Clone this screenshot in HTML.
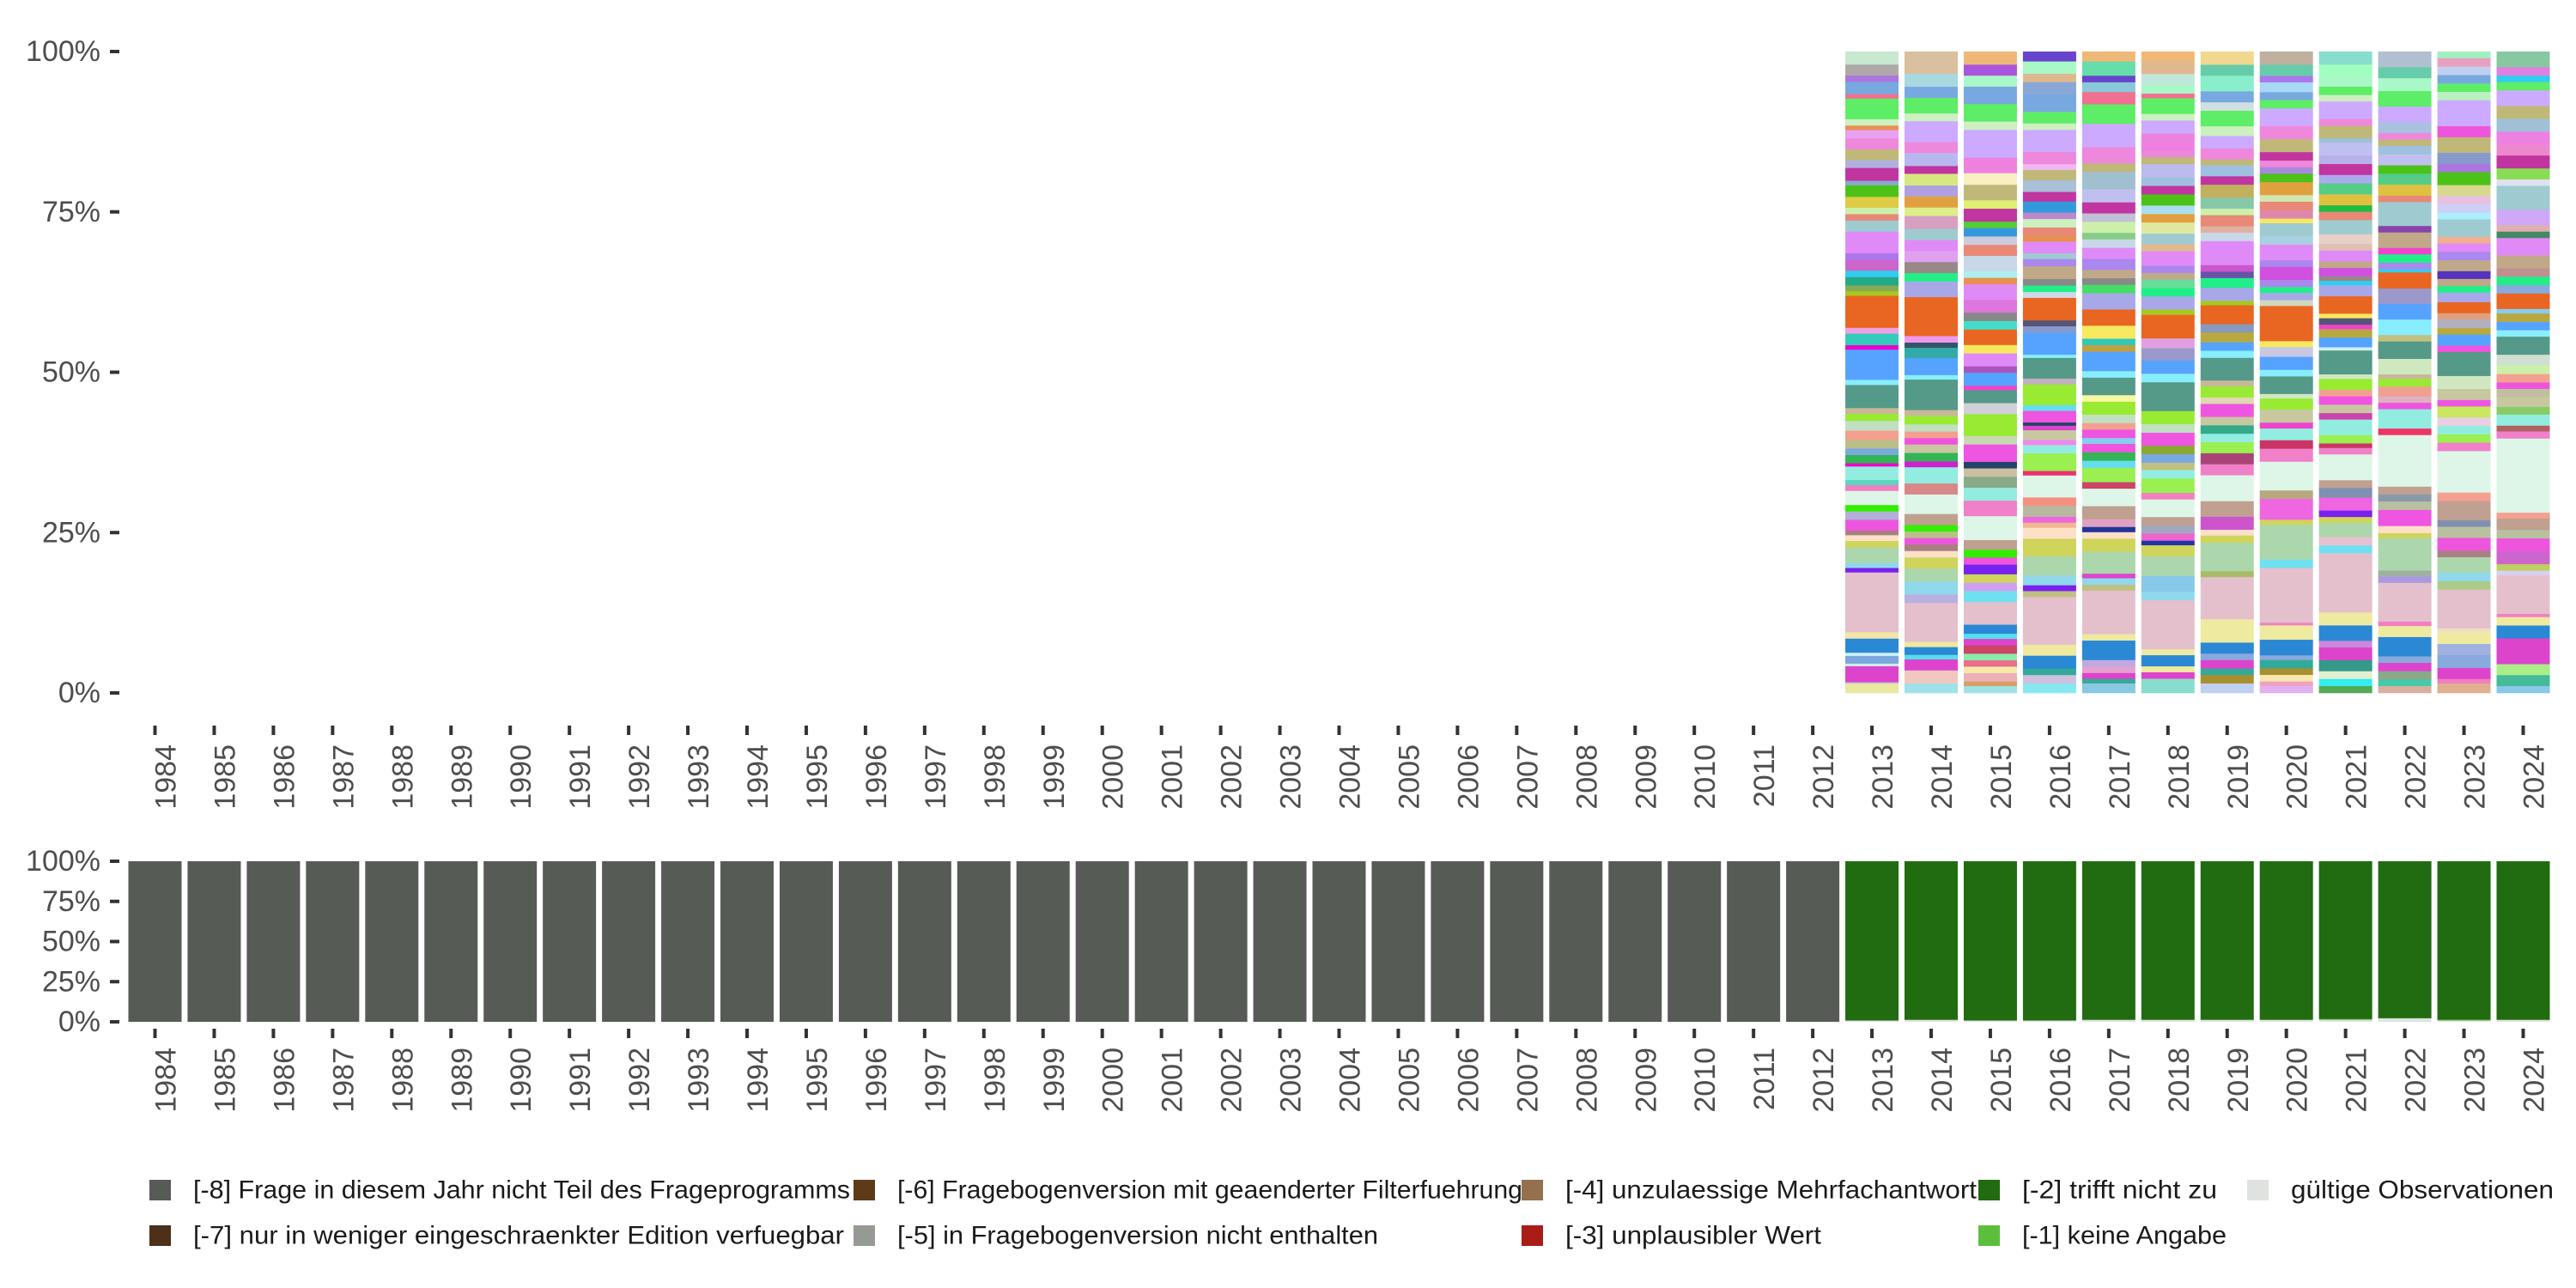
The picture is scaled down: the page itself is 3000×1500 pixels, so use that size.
<!DOCTYPE html>
<html><head><meta charset="utf-8"><style>
html,body{margin:0;padding:0;background:#fff;}
svg{display:block;font-family:"Liberation Sans",sans-serif;}
</style></head><body>
<svg id="chart" width="3000" height="1500" viewBox="0 0 3000 1500" xmlns="http://www.w3.org/2000/svg">
<g id="topPanel"></g>
<g id="bottomPanel"></g>
<g id="legend"></g>
</svg>
<script>
const years = [];
for (let y = 1984; y <= 2024; y++) years.push(y);
const yTicks = [0, 25, 50, 75, 100];
const yTickLabels = ['0%', '25%', '50%', '75%', '100%'];

// top panel: stacked shares (bottom -> top) of valid answer categories, [share %, colour]
const seg2013 = [[1.5,'#e8e8a0'],[0.2,'#c0c0e0'],[2.5,'#dd44cc'],[0.4,'#cceeee'],[1.2,'#7ba7dc'],[0.5,'#cceeff'],[2.2,'#2a88d4'],[1,'#f4e4a8'],[9.3,'#e4bfcc'],[0.7,'#7722ee'],[0.8,'#8fd8ec'],[2.4,'#acd6ac'],[1,'#cfd45a'],[0.9,'#fde0c8'],[0.7,'#a88080'],[1.7,'#ee55dd'],[1.3,'#b0b0d8'],[1,'#33ee00'],[2.2,'#ddf6e8'],[0.9,'#f080c0'],[0.8,'#5cd6c0'],[2.1,'#92ede0'],[0.5,'#ee00cc'],[1.3,'#33b555'],[1,'#7aa9e0'],[1.3,'#b8c088'],[1.5,'#f4a090'],[1.5,'#c0e0c0'],[1.1,'#99ea33'],[0.9,'#c8b898'],[3.6,'#559988'],[0.8,'#88eeff'],[4.7,'#55a3ff'],[0.7,'#ee00cc'],[1.8,'#33ccbb'],[0.9,'#f0a0e0'],[5,'#e86622'],[0.7,'#a8c820'],[0.9,'#88aa55'],[1.3,'#22aa88'],[1,'#33ccee'],[1.7,'#cc66cc'],[1,'#aa77ee'],[3.4,'#e08af8'],[1.7,'#9ecbd0'],[1,'#e88877'],[1,'#ccf0aa'],[1.7,'#ddcc44'],[1.8,'#4cc218'],[0.7,'#88aacc'],[2,'#c035a0'],[1.2,'#b0b0e0'],[1.7,'#c0b878'],[1.7,'#ee88dd'],[1.3,'#e8a0f0'],[0.7,'#e89050'],[1,'#ccf0c0'],[3.2,'#5ded66'],[0.7,'#f07090'],[1.9,'#78a8e0'],[1,'#aa77dd'],[1.7,'#b0a8a8'],[2,'#c8e8d0']];
const seg2014 = [[1.5,'#a0e0e8'],[2,'#f0c8c0'],[1.7,'#dd44cc'],[0.7,'#55ddee'],[1.2,'#2a88d4'],[0.8,'#eeeaa0'],[6,'#e4bfcc'],[1.3,'#b8b0e0'],[2,'#90d8ec'],[2,'#acd6ac'],[1.7,'#cfd45a'],[1,'#fde0c8'],[1,'#a88080'],[1,'#ee55dd'],[1,'#b8c088'],[1,'#33ee00'],[1.7,'#c0a090'],[3,'#ddf6e8'],[1.7,'#d88888'],[2.5,'#92ede0'],[0.9,'#cc22cc'],[1.3,'#33b555'],[1.3,'#c8c8a0'],[1,'#ee55dd'],[1,'#f4a090'],[1.1,'#c0e0c0'],[1.3,'#99ea33'],[0.9,'#c8b898'],[4.7,'#559988'],[0.7,'#88eeff'],[2.6,'#55a3ff'],[1.6,'#33aaaa'],[0.8,'#335566'],[1,'#ee99ee'],[6,'#e86622'],[2.4,'#a8a8e8'],[1.3,'#22ee88'],[1.7,'#998888'],[1.7,'#e0a0f0'],[1.7,'#e08af8'],[1.7,'#9ecbd0'],[2,'#d8a0c0'],[1.3,'#ddee88'],[1.7,'#e0a040'],[1.7,'#b0a0e0'],[1.8,'#d8e880'],[1.2,'#c035a0'],[2,'#b8b8f0'],[1.7,'#ee88dd'],[3.2,'#ccaaff'],[1.2,'#ccf0c0'],[2.4,'#5ded66'],[1.7,'#78a8e0'],[2,'#a8d8e0'],[3.4,'#d8c0a0']];
const seg2015 = [[1.1,'#a0e0e8'],[0.7,'#d8a060'],[1.3,'#ecb0b8'],[1,'#f8e8a8'],[1,'#e87088'],[1,'#88eeaa'],[1.3,'#cc4466'],[1,'#dd44cc'],[0.8,'#55ddee'],[1.4,'#2a88d4'],[3.5,'#e4bfcc'],[1.7,'#70e0f0'],[1.3,'#d0a0f0'],[1.3,'#cfd45a'],[1.5,'#7722ee'],[1.1,'#ee55dd'],[1.2,'#33ee00'],[1.5,'#c0a090'],[3.7,'#ddf6e8'],[2.4,'#f080c8'],[2,'#92ede0'],[1.7,'#88aa88'],[1.3,'#c8c0a0'],[1,'#224466'],[2.7,'#ee55e0'],[1.3,'#c8d8b0'],[3.4,'#99ea33'],[1.7,'#d0d0d8'],[2,'#559988'],[0.7,'#ee44cc'],[2,'#55a3ff'],[1,'#aa55bb'],[2,'#e08af8'],[1.3,'#f8e860'],[2.4,'#e86622'],[1.3,'#44ddcc'],[1.3,'#888888'],[2,'#dd77dd'],[2.4,'#e08af8'],[1,'#e89050'],[1,'#aeeef0'],[2.4,'#c8d8e8'],[1.7,'#e88877'],[1.3,'#ccccdd'],[1.3,'#3399dd'],[1,'#55cc33'],[2,'#c035a0'],[1.3,'#ddf070'],[2.4,'#c0b878'],[1.8,'#f8f0c0'],[2.4,'#ee80e0'],[4.3,'#ccaaff'],[1.3,'#ccf0c0'],[2.7,'#5ded66'],[2.7,'#78a8e0'],[1.7,'#a8f8c8'],[1.7,'#aa55dd'],[2,'#f0b878']];
const seg2016 = [[1.5,'#88e8f0'],[1.3,'#d0c0e0'],[1,'#33aa99'],[2,'#2a88d4'],[1.7,'#eeeaa0'],[7.4,'#e4bfcc'],[0.9,'#c0c080'],[0.9,'#7722ee'],[1.5,'#90d8ec'],[3,'#acd6ac'],[2.7,'#cfd45a'],[1.7,'#fde0c8'],[0.8,'#f0b890'],[0.9,'#ee66e0'],[1.7,'#b8b8a0'],[1.3,'#f49080'],[3.4,'#ddf6e8'],[0.7,'#f03070'],[2.7,'#99f050'],[1.3,'#92ede0'],[0.8,'#ee88ee'],[1.5,'#c8c8a0'],[0.7,'#dd44cc'],[0.5,'#224466'],[1.8,'#ee55e0'],[0.9,'#66ddee'],[3.2,'#99ea33'],[0.9,'#c0b0c0'],[3.2,'#559988'],[0.5,'#88eeff'],[3.4,'#55a3ff'],[1,'#8899cc'],[0.9,'#555577'],[3.5,'#e86622'],[0.9,'#d0d8e8'],[1,'#22ee88'],[1,'#888888'],[2,'#c0a888'],[1.1,'#aa88ee'],[0.9,'#9ecbd0'],[1.8,'#e08af8'],[0.9,'#e89050'],[1.3,'#e88877'],[1.3,'#ccf0c0'],[1,'#bb88cc'],[1.7,'#3399dd'],[1.5,'#c035a0'],[1.8,'#a8c0d8'],[1.6,'#c0b878'],[0.9,'#f0b8f0'],[1.9,'#ee88dd'],[3.4,'#ccaaff'],[1,'#ccf0c0'],[1.8,'#5ded66'],[2.7,'#78a8e0'],[1.9,'#88a8d8'],[1.3,'#e0b890'],[1.9,'#a8f8c8'],[1.5,'#6644cc']];
const seg2017 = [[1.5,'#88c8e0'],[0.7,'#33aa99'],[0.9,'#dd44cc'],[1,'#e4a0d0'],[1,'#c0a8e0'],[3,'#2a88d4'],[1,'#eeeaa0'],[6.7,'#e4bfcc'],[0.9,'#c0c080'],[1,'#90d8ec'],[0.7,'#dd44cc'],[3.4,'#acd6ac'],[2,'#cfd45a'],[1,'#fde0c8'],[0.8,'#223399'],[1.2,'#e0a0c0'],[2,'#c0a090'],[2.7,'#ddf6e8'],[1,'#cc4466'],[2.2,'#99f050'],[1.1,'#66ddee'],[1.3,'#33b555'],[1.3,'#ee55dd'],[0.9,'#88ccee'],[1.3,'#ee55e0'],[1,'#f4a090'],[1.3,'#c0e0c0'],[2,'#99ea33'],[1,'#f8f8a0'],[2.7,'#559988'],[1,'#88eeff'],[3,'#55a3ff'],[1,'#c0a040'],[1,'#30c8b8'],[2,'#f8ea60'],[2.5,'#e86622'],[2.5,'#a8a8e8'],[1.3,'#44dd66'],[1,'#888888'],[1.3,'#c0a888'],[1.7,'#aa88ee'],[1.7,'#e08af8'],[1.3,'#c8d8e8'],[1,'#88cc88'],[1.7,'#ccf0aa'],[1.3,'#c0c0d8'],[1.7,'#c035a0'],[2,'#c0c0f0'],[2.7,'#a0c0d0'],[1.3,'#c0b878'],[0.7,'#ee88dd'],[1.8,'#ee88dd'],[3.6,'#ccaaff'],[3,'#5ded66'],[1.9,'#f07090'],[1.5,'#88c8d8'],[1,'#6644cc'],[2.2,'#66ddaa'],[1.5,'#f0b878']];
const seg2018 = [[2.2,'#88ddcc'],[1,'#dd44cc'],[0.9,'#eeeaa0'],[1.7,'#2a88d4'],[0.9,'#eeeaa0'],[7.5,'#e4bfcc'],[1.3,'#90d8ec'],[2.4,'#88c8e8'],[3,'#acd6ac'],[1.7,'#cfd45a'],[0.7,'#2233aa'],[1.1,'#ee66cc'],[1.2,'#a0a8c0'],[1.3,'#c0a090'],[2.7,'#ddf6e8'],[1,'#f080c0'],[2.2,'#99f050'],[1.3,'#92ede0'],[1.1,'#c0c080'],[1.3,'#7aa9e0'],[1.3,'#88aa33'],[2,'#ee55e0'],[1.3,'#c0e0c0'],[2,'#99ea33'],[4.4,'#559988'],[1.3,'#88eeff'],[2,'#55a3ff'],[1.9,'#9999cc'],[1.5,'#e0a0e0'],[3.6,'#e86622'],[0.8,'#a8c820'],[2,'#a8a8e8'],[1.3,'#22ee88'],[1.3,'#66dd99'],[1,'#c0a888'],[1.1,'#aa88ee'],[2.2,'#e08af8'],[1.1,'#e0b890'],[1.6,'#9ecbd0'],[1.7,'#e0e8a0'],[1.3,'#e0a040'],[1.3,'#aaddee'],[1.7,'#4cc218'],[1.3,'#c035a0'],[1.3,'#a0c0e0'],[2,'#bbbbf0'],[1.1,'#c0b878'],[0.9,'#ee88dd'],[2.7,'#ee80e0'],[2,'#ccaaff'],[1,'#ccf0c0'],[2.4,'#5ded66'],[0.7,'#f07090'],[1.3,'#a8f8c8'],[1.7,'#c0e8d8'],[1.9,'#e0b890'],[1.5,'#f0b878']];
const seg2019 = [[1.5,'#c0d0f0'],[1.3,'#a89030'],[1,'#33aa99'],[1.3,'#dd44cc'],[1,'#88aadd'],[1.7,'#2a88d4'],[3.6,'#eeeaa0'],[6.5,'#e4bfcc'],[0.9,'#aabb66'],[4.4,'#acd6ac'],[1.1,'#cfd45a'],[0.9,'#fde0c8'],[2,'#cc55cc'],[2.4,'#c0a090'],[4,'#ddf6e8'],[1.7,'#f080c8'],[1.7,'#aa4477'],[1.7,'#99f050'],[1.3,'#92ede0'],[1.3,'#33aa88'],[1.3,'#c8c8a0'],[2,'#ee55e0'],[1,'#e0d8b0'],[1.7,'#99ea33'],[0.9,'#c8b898'],[3.5,'#559988'],[1.1,'#88eeff'],[1.3,'#55a3ff'],[1.5,'#b8a840'],[1.3,'#8899bb'],[2.9,'#e86622'],[0.7,'#a8c820'],[2,'#a8a8e8'],[1.5,'#22ee88'],[1,'#6655aa'],[1,'#cc55cc'],[3.7,'#e08af8'],[1.3,'#c8d8e8'],[1,'#e0b0a0'],[1.7,'#e88877'],[1,'#ccf0aa'],[1.7,'#88c8aa'],[2,'#c0b060'],[1.3,'#c035a0'],[1.7,'#a0c0e0'],[0.9,'#c0b878'],[1.7,'#ee88dd'],[1.9,'#ccaaff'],[1.5,'#ccf0c0'],[2.4,'#5ded66'],[1.3,'#d0e0e0'],[1.7,'#78a8e0'],[2.4,'#88eecc'],[1.7,'#66ccaa'],[2,'#f0d890']];
const seg2020 = [[1.1,'#e0b0f0'],[0.7,'#f0a0c0'],[1,'#f8e8b0'],[1,'#a89030'],[1.3,'#33aa99'],[0.7,'#88aadd'],[2.4,'#2a88d4'],[2.2,'#eeeaa0'],[0.4,'#f080c0'],[8.4,'#e4bfcc'],[1.3,'#70e0f0'],[5.3,'#acd6ac'],[0.8,'#cfd45a'],[3.2,'#ee66e0'],[1.3,'#b8a880'],[4.4,'#ddf6e8'],[2,'#f080c8'],[1.3,'#cc3366'],[1.8,'#92ede0'],[0.9,'#ee44cc'],[2,'#c8c8a0'],[1.7,'#99ea33'],[0.7,'#d0e8c0'],[2.7,'#559988'],[1,'#88eeff'],[2,'#55a3ff'],[1.5,'#c8c8e0'],[0.9,'#f8e860'],[5.4,'#e86622'],[0.9,'#d0d8c0'],[1.1,'#a8a8e8'],[0.9,'#22ee88'],[1.1,'#aa88ee'],[2,'#d050e0'],[1,'#aa88ee'],[2.4,'#e08af8'],[1.3,'#a8d0e0'],[2,'#9ecbd0'],[0.7,'#f8e860'],[1.3,'#dd88aa'],[1.3,'#e88877'],[1,'#d0e8b0'],[2,'#e0a040'],[1.3,'#4cc218'],[1,'#aa88dd'],[1,'#ee88dd'],[1.3,'#c035a0'],[2,'#c0b878'],[2,'#ee88dd'],[2.7,'#ccaaff'],[1.3,'#5ded66'],[1.2,'#78a8e0'],[1.5,'#a8d8f8'],[1,'#aa77ee'],[1.7,'#66ccaa'],[2,'#c0b0a0']];
const seg2021 = [[1.1,'#55aa55'],[1.1,'#33eeee'],[1.2,'#e0f0d0'],[1.7,'#339988'],[2,'#dd44cc'],[1,'#cc88dd'],[2.4,'#2a88d4'],[2,'#eeeaa0'],[9.2,'#e4bfcc'],[1.2,'#70e0f0'],[1.3,'#e8c0d0'],[2.2,'#acd6ac'],[0.9,'#cfd45a'],[1,'#7722ee'],[2,'#ee66e0'],[1.5,'#8090b0'],[1.2,'#c0a090'],[4,'#ddf6e8'],[1,'#f080c8'],[0.7,'#cc3366'],[1.3,'#99f050'],[2.4,'#92ede0'],[1,'#cc44aa'],[1.3,'#c8c8a0'],[1.3,'#ee55e0'],[1,'#f4a090'],[1.7,'#99ea33'],[0.7,'#d0e8c0'],[3.7,'#559988'],[0.5,'#d0f0f0'],[1.5,'#55a3ff'],[1.3,'#b8a840'],[0.7,'#ee44cc'],[1,'#555577'],[0.7,'#f8e860'],[2.7,'#e86622'],[1.7,'#a8a8e8'],[0.7,'#33ccee'],[0.7,'#998888'],[1.3,'#d050e0'],[1,'#c0a888'],[1.7,'#e08af8'],[1,'#e0c0b0'],[1.5,'#e8d0c8'],[2.2,'#9ecbd0'],[1.3,'#e88877'],[1,'#22bb44'],[1.7,'#e0c040'],[1.7,'#55cc88'],[1.3,'#aaaaee'],[1.7,'#c035a0'],[1.3,'#b8b0e8'],[2,'#c0c0f0'],[0.7,'#a0c0d8'],[1.9,'#c0b878'],[1.1,'#ee88dd'],[2.7,'#ccaaff'],[1,'#ccf0c0'],[1.3,'#5ded66'],[1.7,'#a8f8c8'],[1.7,'#a0ffc0'],[2,'#88ddcc']];
const seg2022 = [[1.1,'#d8b0a0'],[1,'#44ccaa'],[1.3,'#88aa88'],[1.3,'#dd44cc'],[1,'#88aadd'],[3,'#2a88d4'],[1.7,'#eeeaa0'],[0.7,'#f080c0'],[6,'#e4bfcc'],[1,'#aa99e0'],[0.9,'#a0b0a0'],[5,'#acd6ac'],[0.8,'#cfd45a'],[1.1,'#fde0c8'],[2.5,'#ee55e0'],[1.3,'#b8c0a0'],[1.1,'#8899aa'],[1.2,'#c0a090'],[8,'#ddf6e8'],[1,'#ee3366'],[3,'#92ede0'],[1,'#ee55dd'],[1,'#e0b0c0'],[1.5,'#f0a090'],[1.2,'#99ea33'],[0.7,'#c8b898'],[2.4,'#d0e8c0'],[2.7,'#559988'],[1,'#c0c080'],[2.4,'#88eeff'],[2.4,'#55a3ff'],[2.4,'#9999cc'],[2.5,'#e86622'],[0.5,'#33ccee'],[1,'#aa88ee'],[1.3,'#22ee88'],[1,'#ee44cc'],[2.4,'#c0a888'],[1,'#8844aa'],[3.7,'#9ecbd0'],[1,'#e88877'],[1.7,'#e0c040'],[1.7,'#55cc88'],[1.3,'#4cc218'],[1.7,'#c0c0f0'],[1.3,'#a0c0e0'],[1,'#c0b878'],[1,'#ee88dd'],[1.7,'#aac0e0'],[2.4,'#ccaaff'],[2.4,'#5ded66'],[2,'#a8f8c8'],[1.7,'#66ccaa'],[2.4,'#b0c0d0']];
const seg2023 = [[1.5,'#e0b090'],[0.7,'#f080c0'],[1.7,'#dd44cc'],[2,'#88aadd'],[1.7,'#a0b0e0'],[1.7,'#eeeaa0'],[0.7,'#f0e0c0'],[6,'#e4bfcc'],[1.3,'#aacc88'],[1.3,'#90d8ec'],[2.4,'#acd6ac'],[1,'#a88080'],[2,'#ee55dd'],[1.7,'#b8c0a0'],[1,'#8090b0'],[3,'#c0a090'],[1.3,'#f4a090'],[6.4,'#ddf6e8'],[1.3,'#f080c8'],[1.3,'#99f050'],[1.3,'#92ede0'],[1.3,'#e8d0e0'],[1.7,'#c8e860'],[1,'#ee55e0'],[1.7,'#c8c8a0'],[2,'#d0e8c0'],[3.7,'#559988'],[1,'#ee55dd'],[1.7,'#55a3ff'],[1,'#b8a840'],[1.3,'#b0b0c0'],[1,'#e0a080'],[1.7,'#e86622'],[1.5,'#a8a8e8'],[1,'#22ee88'],[1.1,'#c0a888'],[1.2,'#5533bb'],[1.7,'#c0a888'],[1.3,'#aa88ee'],[1.3,'#e08af8'],[1,'#f0b090'],[2.7,'#9ecbd0'],[1,'#aaeeff'],[1.3,'#ccd0f8'],[1.3,'#e8c0e0'],[1.7,'#d8d890'],[2,'#4cc218'],[1.3,'#aa77dd'],[1.7,'#8899cc'],[2.4,'#c0b878'],[1.7,'#ee55dd'],[4,'#ccaaff'],[1.3,'#b8f0c0'],[1.3,'#5ded66'],[1.3,'#78a8e0'],[1.3,'#c0d0f0'],[1.3,'#e8a0c0'],[1,'#a0f0c0']];
const seg2024 = [[1.1,'#88c8e8'],[1.7,'#44bb99'],[1.7,'#aaee88'],[4,'#dd44cc'],[2,'#2a88d4'],[1.3,'#eeeaa0'],[0.5,'#f080c0'],[6,'#e4bfcc'],[0.7,'#d8d0f0'],[1,'#c0d060'],[2,'#cc66cc'],[2,'#ee55dd'],[1.3,'#b8c0a0'],[1.8,'#c0a090'],[0.9,'#f4a090'],[11.5,'#ddf6e8'],[1.1,'#f080c8'],[0.9,'#b06060'],[1.7,'#92ede0'],[1.2,'#88cc66'],[1.5,'#c8c8a0'],[1.3,'#c0c0a0'],[1,'#ee55dd'],[1.3,'#f4a090'],[1.3,'#ccf0aa'],[1.7,'#d0e0d0'],[2.8,'#559988'],[1,'#88eeff'],[1.3,'#55a3ff'],[1.3,'#b8a840'],[0.7,'#88ccee'],[2.4,'#e86622'],[1.3,'#88aadd'],[1.3,'#22ee88'],[1.3,'#c09090'],[2,'#c0a888'],[2.7,'#e08af8'],[1,'#448866'],[1,'#e0b0b0'],[2.4,'#d0a8f8'],[3.7,'#9ecbd0'],[1,'#e0e0f0'],[1.7,'#88dd55'],[2,'#c035a0'],[1.7,'#ee88cc'],[2,'#ee80e0'],[2,'#a0c0d8'],[2,'#c0b878'],[2.4,'#ccaaff'],[1.3,'#5ded66'],[1,'#33ccee'],[1.3,'#e080e0'],[2.4,'#88c8a0']];
const topSegments = [seg2013, seg2014, seg2015, seg2016, seg2017, seg2018, seg2019, seg2020, seg2021, seg2022, seg2023, seg2024];
const topYears = [2013, 2014, 2015, 2016, 2017, 2018, 2019, 2020, 2021, 2022, 2023, 2024];

// bottom panel: share of each code per year (%), stacked bottom->top: valid, -1, -2, -8
const validShare  = [0,0,0,0,0,0,0,0,0,0,0,0,0,0,0,0,0,0,0,0,0,0,0,0,0,0,0,0,0, 0.8,1.2,0.8,0.8,1.2,1.2,1.2,1.2,1.2,2.2,0.8,1.2];
const noAnswerShare = [0,0,0,0,0,0,0,0,0,0,0,0,0,0,0,0,0,0,0,0,0,0,0,0,0,0,0,0,0, 0,0,0,0,0,0,0,0,0.5,0,0.5,0];
const notApplicableShare = [0,0,0,0,0,0,0,0,0,0,0,0,0,0,0,0,0,0,0,0,0,0,0,0,0,0,0,0,0, 99.2,98.8,99.2,99.2,98.8,98.8,98.8,98.8,98.3,97.8,98.7,98.8];
const notInProgramShare = [100,100,100,100,100,100,100,100,100,100,100,100,100,100,100,100,100,100,100,100,100,100,100,100,100,100,100,100,100, 0,0,0,0,0,0,0,0,0,0,0,0];

const legendLabels = ['[-8] Frage in diesem Jahr nicht Teil des Frageprogramms','[-7] nur in weniger eingeschraenkter Edition verfuegbar','[-6] Fragebogenversion mit geaenderter Filterfuehrung','[-5] in Fragebogenversion nicht enthalten','[-4] unzulaessige Mehrfachantwort','[-3] unplausibler Wert','[-2] trifft nicht zu','[-1] keine Angabe','gültige Observationen'];
const legendColors = ['#565b55','#4e2f17','#5e3a19','#969a94','#94704f','#aa1c16','#216b11','#5cbf3c','#dfe3df'];

const NS = 'http://www.w3.org/2000/svg';
const X0 = 180.5, STEP = 68.95, BW = 62;
function xCenter(year){ return X0 + (year - 1984) * STEP; }
function yTop(v){ return 807 - v / 100 * 747; }
function yBot(v){ return 1190 - v / 100 * 187; }
function mk(tag, attrs, parent){
  const e = document.createElementNS(NS, tag);
  for (const k in attrs) e.setAttribute(k, attrs[k]);
  parent.appendChild(e);
  return e;
}
function axes(g, yfn, tickTop, labTop, prefix){
  yTicks.forEach((t, i) => {
    const y = yfn(t);
    const tk = mk('rect', {x:128, y:y-2, width:11, height:4, fill:'#333333'}, g);
    
    
    const tx = mk('text', {x:117, y:y, 'text-anchor':'end', 'dominant-baseline':'central', 'font-size':34, fill:'#4d4d4d'}, g);
    tx.textContent = yTickLabels[i];
    
    
  });
  years.forEach(yr => {
    const x = xCenter(yr);
    const tk = mk('rect', {x:x-2, y:tickTop, width:4, height:11, fill:'#333333'}, g);
    
    
    const tx = mk('text', {x:0, y:0, 'text-anchor':'end', 'dominant-baseline':'central', 'font-size':34, fill:'#4d4d4d', transform:'translate(' + (x + 13) + ',' + labTop + ') rotate(-90)'}, g);
    tx.textContent = String(yr);
    
    
  });
}
const topG = document.getElementById('topPanel');
axes(topG, yTop, 845, 867, 'top');
topYears.forEach((yr, i) => {
  const segs = topSegments[i];
  const total = segs.reduce((a, s) => a + s[0], 0);
  let cum = 0;
  const x = xCenter(yr) - BW / 2;
  segs.forEach(s => {
    const v = s[0] / total * 100;
    const y1 = yTop(cum), y2 = yTop(cum + v);
    const r = mk('rect', {x:x, y:y2, width:BW, height:Math.max(0, y1 - y2) + 0.3, fill:s[1]}, topG);
    
    
    cum += v;
  });
});
const botG = document.getElementById('bottomPanel');
axes(botG, yBot, 1198, 1220, 'bottom');
years.forEach((yr, i) => {
  const parts = [[validShare[i], '#dfe3df'], [noAnswerShare[i], '#5cbf3c'], [notApplicableShare[i], '#216b11'], [notInProgramShare[i], '#565b55']];
  let cum = 0;
  const x = xCenter(yr) - BW / 2;
  parts.forEach(p => {
    if (p[0] <= 0) return;
    const y1 = yBot(cum), y2 = yBot(cum + p[0]);
    const r = mk('rect', {x:x, y:y2, width:BW, height:y1 - y2, fill:p[1]}, botG);
    
    
    cum += p[0];
  });
});
const lg = document.getElementById('legend');
const keyX = [174,174,994,994,1772,1772,2304,2304,2617];
const keyY = [1386,1439,1386,1439,1386,1439,1386,1439,1386];
const textW = [765,758,728,560,479,298,227,238,306];
legendLabels.forEach((lab, i) => {
  const k = mk('rect', {x:keyX[i], y:keyY[i]-12, width:25, height:24, fill:legendColors[i]}, lg);
  
  
  const t = mk('text', {x:keyX[i]+51, y:keyY[i], 'dominant-baseline':'central', 'font-size':30, fill:'#1a1a1a', textLength:textW[i], lengthAdjust:'spacingAndGlyphs'}, lg);
  t.textContent = lab;
  
  
});
</script>
</body></html>
